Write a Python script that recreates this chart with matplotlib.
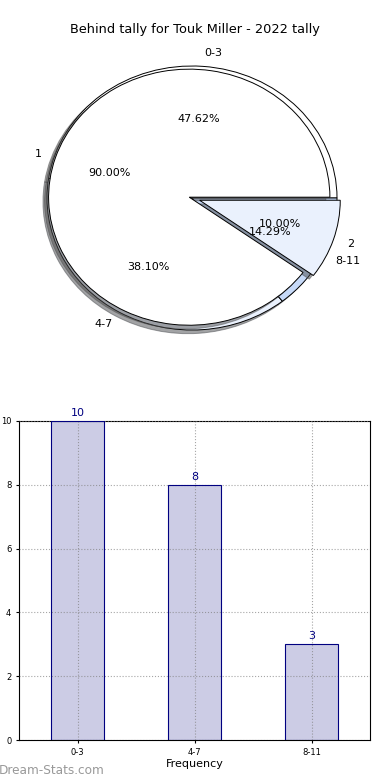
import matplotlib
matplotlib.use("Agg")
import matplotlib.pyplot as plt

# data
title = "Behind tally for Touk Miller - 2022 tally"
outer_labels = ["1", "2"]
outer_values = [90, 10]
freq_labels = ["0-3", "4-7", "8-11"]
freq_values = [10, 8, 3]
ylabel = "Number of Games"
xlabel = "Frequency"
watermark = "Dream-Stats.com"

fig = plt.figure(figsize=(3.9, 7.8), dpi=100)
fig.text(0.5, 1 - 30 / 780, title, ha="center", va="center", fontsize=9.3)

# ---- pie area ----
axp = fig.add_axes([10.75 / 390, 417 / 780, 362.5 / 390, 330 / 780])
wp_b = dict(edgecolor="black", linewidth=0.7, zorder=1)
axp.pie(freq_values, labels=freq_labels, colors=["#ffffff", "#eaf1fd", "#c6d9f8"],
        autopct="%1.2f%%", pctdistance=0.6, labeldistance=1.1, startangle=0,
        shadow=True, wedgeprops=wp_b, textprops=dict(fontsize=8))
wp_a = dict(edgecolor="black", linewidth=0.7, zorder=2)
_, ta, pa = axp.pie(outer_values, labels=outer_labels, colors=["#ffffff", "#eaf1fd"],
        autopct="%1.2f%%", pctdistance=0.6, labeldistance=1.1, startangle=0,
        radius=0.97, explode=[0.02, 0.055],
        shadow=True, wedgeprops=wp_a, textprops=dict(fontsize=8))
for t in list(ta) + list(pa):
    t.set_zorder(5)
axp.set_aspect("auto")
axp.set_xlim(-1.25, 1.25)
axp.set_ylim(-1.25, 1.25)
axp.axis("off")

# ---- bar area ----
axb = fig.add_axes([19 / 390, 40 / 780, 351 / 390, 319 / 780])
xpos = list(range(len(freq_labels)))
axb.bar(xpos, freq_values, width=0.45, color="navy", alpha=0.2, zorder=2)
axb.bar(xpos, freq_values, width=0.45, facecolor="none", edgecolor="navy",
        linewidth=0.8, zorder=3)
for x, v in zip(xpos, freq_values):
    axb.text(x, v + 0.1, str(v), ha="center", va="bottom", color="navy", fontsize=8)
axb.set_xlim(-0.5, 2.5)
axb.set_ylim(0, 10)
axb.set_xticks(xpos)
axb.set_xticklabels(freq_labels)
axb.set_yticks([0, 2, 4, 6, 8, 10])
axb.tick_params(labelsize=6, length=2)
axb.grid(True, linestyle=":", color="gray", alpha=0.7, zorder=0)
axb.set_axisbelow(False)
axb.set_xlabel(xlabel, fontsize=8, labelpad=2)
fig.text(-0.004, 1 - 570 / 780, ylabel, rotation=90, ha="center", va="center", fontsize=8)

fig.text(-0.003, 1 - 770 / 780, watermark, ha="left", va="center", fontsize=8.7,
         color="#999999")

fig.savefig("out.png", dpi=100)
